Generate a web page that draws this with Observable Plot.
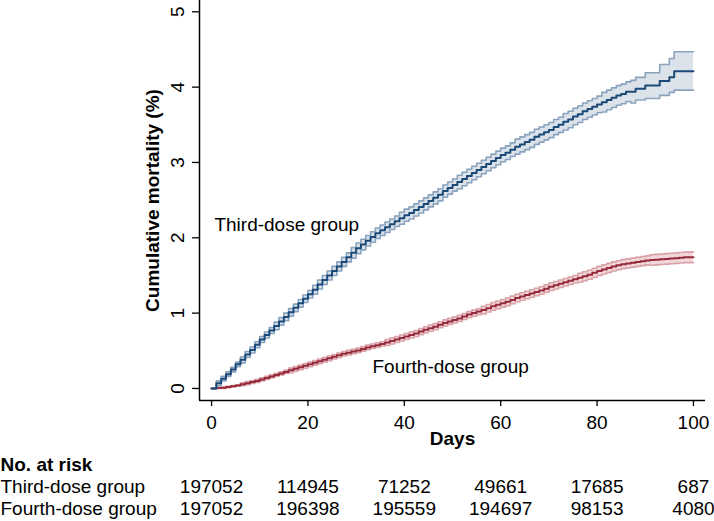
<!DOCTYPE html>
<html><head><meta charset="utf-8">
<script src="https://cdn.jsdelivr.net/npm/d3@7"></script>
<script src="https://cdn.jsdelivr.net/npm/@observablehq/plot@0.6"></script>
<style>body{margin:0;background:#fff}</style>
</head><body><div id="chart"></div>
<script>
const days = d3.range(0, 101);

const thirdEst = [0,0.07,0.13,0.19,0.25,0.32,0.38,0.45,0.51,0.58,0.65,0.71,0.77,0.83,0.89,0.95,1.01,1.07,1.13,1.19,1.25,1.31,1.38,1.44,1.50,1.56,1.62,1.68,1.74,1.80,1.86,1.91,1.96,2.01,2.06,2.10,2.14,2.18,2.22,2.26,2.30,2.33,2.37,2.41,2.45,2.49,2.53,2.57,2.62,2.66,2.70,2.74,2.78,2.82,2.86,2.90,2.94,2.98,3.02,3.06,3.10,3.13,3.17,3.21,3.24,3.27,3.30,3.34,3.37,3.40,3.43,3.47,3.50,3.54,3.57,3.61,3.64,3.68,3.71,3.74,3.77,3.80,3.83,3.86,3.89,3.91,3.94,3.94,3.98,3.98,4.02,4.02,4.02,4.08,4.08,4.13,4.21,4.21,4.21,4.21,4.21];
const thirdLo = [0,0.04,0.10,0.16,0.22,0.29,0.34,0.41,0.47,0.54,0.61,0.67,0.73,0.78,0.84,0.90,0.96,1.02,1.08,1.14,1.20,1.25,1.32,1.38,1.44,1.50,1.56,1.62,1.68,1.73,1.79,1.84,1.89,1.94,1.99,2.03,2.07,2.11,2.15,2.18,2.22,2.25,2.29,2.33,2.37,2.41,2.45,2.49,2.54,2.58,2.62,2.65,2.69,2.73,2.77,2.81,2.85,2.89,2.93,2.97,3.01,3.04,3.08,3.11,3.14,3.17,3.20,3.24,3.27,3.30,3.33,3.37,3.40,3.43,3.46,3.50,3.53,3.57,3.60,3.63,3.66,3.67,3.70,3.73,3.76,3.78,3.81,3.79,3.83,3.83,3.85,3.85,3.85,3.89,3.89,3.93,3.96,3.96,3.96,3.96,3.96];
const thirdHi = [0,0.10,0.16,0.22,0.28,0.35,0.42,0.49,0.55,0.62,0.69,0.75,0.81,0.88,0.94,1.00,1.06,1.12,1.18,1.24,1.30,1.37,1.44,1.50,1.56,1.62,1.68,1.74,1.80,1.87,1.93,1.98,2.03,2.08,2.13,2.17,2.21,2.25,2.29,2.34,2.38,2.41,2.45,2.49,2.53,2.57,2.61,2.65,2.70,2.74,2.78,2.83,2.87,2.91,2.95,2.99,3.03,3.07,3.11,3.15,3.19,3.22,3.26,3.31,3.34,3.37,3.40,3.44,3.47,3.50,3.53,3.57,3.60,3.65,3.68,3.72,3.75,3.79,3.82,3.85,3.88,3.93,3.96,3.99,4.02,4.04,4.07,4.09,4.13,4.13,4.19,4.19,4.19,4.30,4.30,4.38,4.47,4.47,4.47,4.47,4.47];

const fourthEst = [0,0.005,0.01,0.02,0.03,0.04,0.055,0.07,0.085,0.10,0.12,0.14,0.16,0.18,0.20,0.22,0.24,0.26,0.28,0.30,0.32,0.34,0.36,0.38,0.40,0.42,0.44,0.46,0.475,0.49,0.505,0.525,0.545,0.56,0.575,0.59,0.61,0.63,0.65,0.67,0.69,0.71,0.73,0.755,0.78,0.80,0.82,0.845,0.87,0.89,0.91,0.93,0.955,0.98,1.00,1.02,1.04,1.065,1.09,1.11,1.13,1.15,1.175,1.20,1.22,1.24,1.26,1.28,1.30,1.325,1.35,1.37,1.39,1.41,1.43,1.45,1.47,1.49,1.51,1.535,1.56,1.58,1.60,1.62,1.635,1.65,1.66,1.67,1.68,1.69,1.70,1.705,1.71,1.715,1.72,1.725,1.73,1.735,1.74,1.74,1.74];
const fourthLo = [0,0,0,0.01,0.02,0.03,0.035,0.05,0.065,0.08,0.10,0.12,0.14,0.16,0.18,0.20,0.21,0.23,0.25,0.27,0.29,0.31,0.33,0.35,0.37,0.39,0.41,0.43,0.445,0.46,0.475,0.495,0.515,0.53,0.545,0.56,0.57,0.59,0.61,0.63,0.65,0.67,0.69,0.715,0.74,0.76,0.78,0.805,0.83,0.85,0.87,0.89,0.915,0.94,0.96,0.98,0.99,1.015,1.04,1.06,1.08,1.10,1.125,1.15,1.17,1.19,1.21,1.23,1.25,1.275,1.30,1.32,1.34,1.36,1.38,1.40,1.41,1.43,1.45,1.475,1.50,1.52,1.54,1.56,1.575,1.59,1.60,1.61,1.62,1.63,1.64,1.635,1.64,1.645,1.65,1.655,1.66,1.665,1.67,1.67,1.67];
const fourthHi = [0,0.015,0.02,0.03,0.04,0.05,0.075,0.09,0.105,0.12,0.14,0.16,0.18,0.20,0.22,0.24,0.27,0.29,0.31,0.33,0.35,0.37,0.39,0.41,0.43,0.45,0.47,0.49,0.505,0.52,0.535,0.555,0.575,0.59,0.605,0.62,0.65,0.67,0.69,0.71,0.73,0.75,0.77,0.795,0.82,0.84,0.86,0.885,0.91,0.93,0.95,0.97,0.995,1.02,1.04,1.06,1.09,1.115,1.14,1.16,1.18,1.20,1.225,1.25,1.27,1.29,1.31,1.33,1.35,1.375,1.40,1.42,1.44,1.46,1.48,1.50,1.53,1.55,1.57,1.595,1.62,1.64,1.66,1.68,1.695,1.71,1.72,1.73,1.74,1.75,1.76,1.775,1.78,1.785,1.79,1.795,1.80,1.805,1.81,1.81,1.81];

const xTicks = [0, 20, 40, 60, 80, 100];
const yTicks = [0, 1, 2, 3, 4, 5];
const riskDays = [0, 20, 40, 60, 80, 100];
const thirdAtRisk = [197052, 114945, 71252, 49661, 17685, 687];
const fourthAtRisk = [197052, 196398, 195559, 194697, 98153, 4080];
const groupNames = ["Third-dose group", "Fourth-dose group"];

const xDomain = [-2.5, 102.5];
const yDomain = [-0.16, 5.15];

const third = days.map((d, i) => ({day: d, est: thirdEst[i], lo: thirdLo[i], hi: thirdHi[i]}));
const fourth = days.map((d, i) => ({day: d, est: fourthEst[i], lo: fourthLo[i], hi: fourthHi[i]}));
const riskThird = riskDays.map((d, i) => ({day: d, n: String(thirdAtRisk[i])}));
const riskFourth = riskDays.map((d, i) => ({day: d, n: String(fourthAtRisk[i])}));

const FS = 19;
const font = "'Liberation Sans', Arial, Helvetica, sans-serif";

function band(data, fill, edge, line) {
  return [
    Plot.areaY(data, {x: "day", y1: "lo", y2: "hi", curve: "step-after", fill: fill}),
    Plot.lineY(data, {x: "day", y: "lo", curve: "step-after", stroke: edge, strokeWidth: 1.6}),
    Plot.lineY(data, {x: "day", y: "hi", curve: "step-after", stroke: edge, strokeWidth: 1.6}),
    Plot.lineY(data, {x: "day", y: "est", curve: "step-after", stroke: line, strokeWidth: 2})
  ];
}

const chart = Plot.plot({
  width: 714,
  height: 521,
  marginLeft: 199,
  marginRight: 9,
  marginTop: 0,
  marginBottom: 121,
  style: {fontFamily: font, fontSize: FS + "px", color: "#000", background: "#fff", overflow: "visible"},
  x: {domain: xDomain, label: null},
  y: {domain: yDomain, label: null},
  marks: [
    ...band(fourth, "#f1d7da", "#d9a3aa", "#962a3a"),
    ...band(third, "#dbe2ea", "#8aa3bd", "#1b4a78"),
    Plot.ruleX([xDomain[0]], {stroke: "#000", strokeWidth: 1.5}),
    Plot.ruleY([yDomain[0]], {stroke: "#000", strokeWidth: 1.5}),
    Plot.axisX({ticks: xTicks, tickSize: 6, tickPadding: 9, tickFormat: d => String(d), fontSize: FS, strokeWidth: 1.3, label: null}),
    Plot.axisY({ticks: yTicks, tickSize: 7, tickPadding: 9, tickRotate: -90, tickFormat: d => String(d), fontSize: FS, strokeWidth: 1.3, label: null}),
    Plot.text(["Cumulative mortality (%)"], {frameAnchor: "left", textAnchor: "middle", rotate: -90, dx: -47, fontSize: FS, fontWeight: "bold"}),
    Plot.text(["Days"], {frameAnchor: "bottom", textAnchor: "middle", dy: 44, fontSize: FS, fontWeight: "bold"}),
    Plot.text([groupNames[0]], {x: 0.6, y: 2.17, textAnchor: "start", fontSize: FS}),
    Plot.text([groupNames[1]], {x: 33.4, y: 0.28, textAnchor: "start", fontSize: FS}),
    Plot.text(["No. at risk"], {frameAnchor: "bottom-left", dx: -199, dy: 70, textAnchor: "start", fontSize: FS, fontWeight: "bold"}),
    Plot.text([groupNames[0]], {frameAnchor: "bottom-left", dx: -199, dy: 92, textAnchor: "start", fontSize: FS}),
    Plot.text([groupNames[1]], {frameAnchor: "bottom-left", dx: -199, dy: 114, textAnchor: "start", fontSize: FS}),
    Plot.text(riskThird, {x: "day", text: "n", frameAnchor: "bottom", textAnchor: "middle", dy: 92, fontSize: FS}),
    Plot.text(riskFourth, {x: "day", text: "n", frameAnchor: "bottom", textAnchor: "middle", dy: 114, fontSize: FS})
  ]
});
document.getElementById("chart").appendChild(chart);
</script>
</body></html>
